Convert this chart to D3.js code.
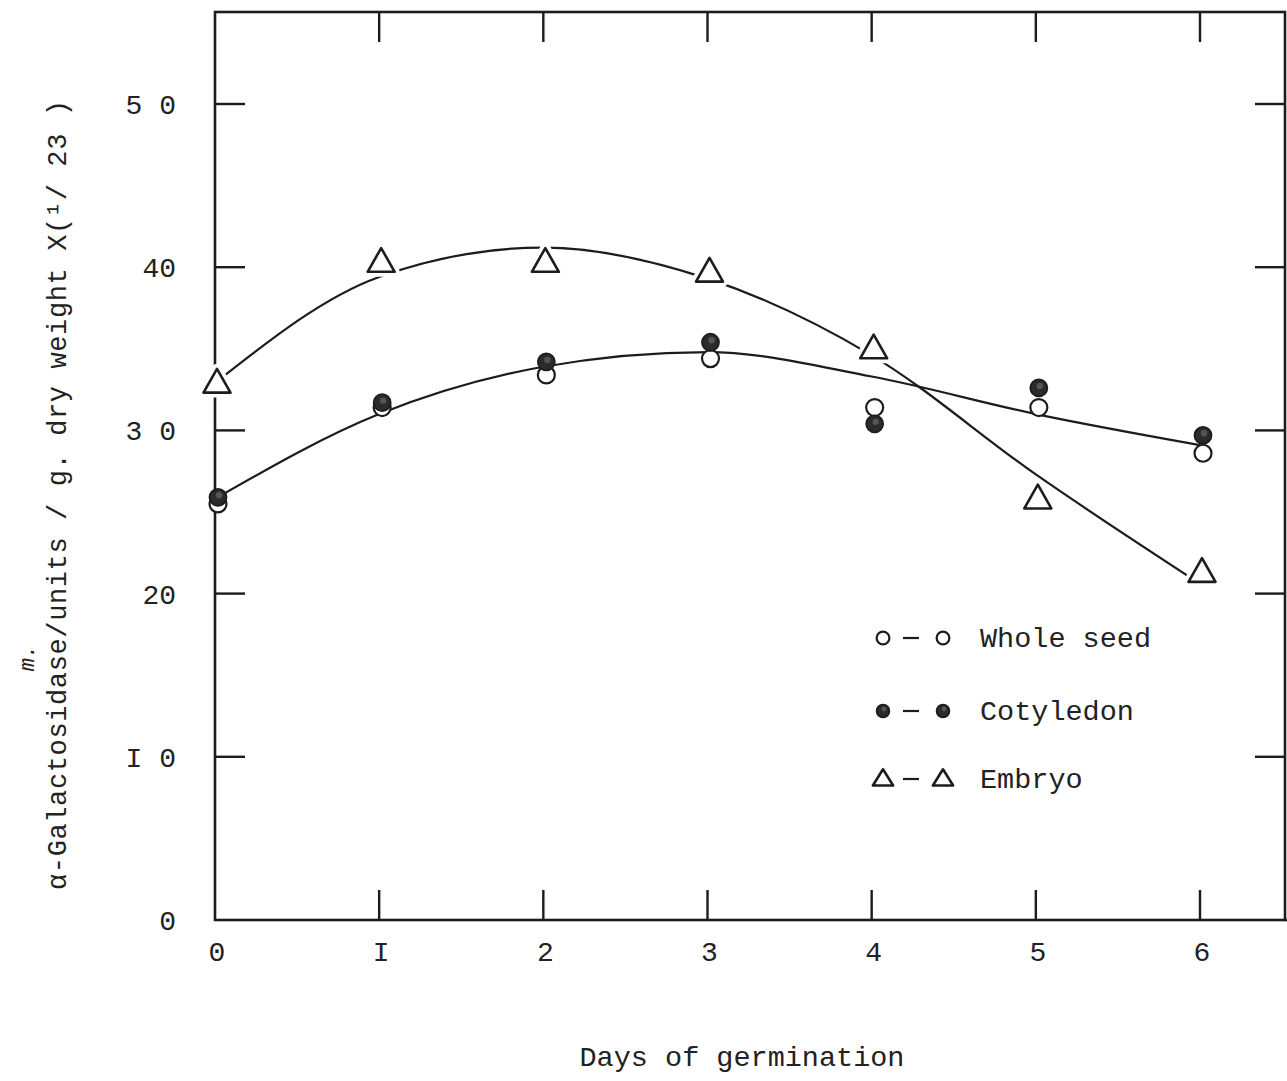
<!DOCTYPE html>
<html>
<head>
<meta charset="utf-8">
<script src="https://cdn.jsdelivr.net/npm/d3@7"></script>
<style>
  html, body { margin: 0; padding: 0; background: #fff; }
  svg { display: block; }
  text { font-family: "Liberation Mono", "DejaVu Sans Mono", monospace; fill: #222; }
</style>
</head>
<body>
<svg id="chart" width="1287" height="1081"></svg>
<script>
// Days of germination
const days = [0, 1, 2, 3, 4, 5, 6];

// Measured activity (units / g dry weight x 1/23)
const wholeSeed  = [25.5, 31.4, 33.4, 34.4, 31.4, 31.4, 28.6];
const cotyledon  = [25.9, 31.7, 34.2, 35.4, 30.4, 32.6, 29.7];
const embryo     = [32.9, 40.3, 40.3, 39.7, 35.0, 25.8, 21.3];

// Hand-drawn trend curves
const seedCurve   = [25.8, 31.0, 33.9, 34.8, 33.3, 31.0, 29.1];
const embryoCurve = [32.9, 39.4, 41.2, 39.3, 34.6, 27.3, 20.6];

// Tick labels
const xTickLabels = ["0", "I", "2", "3", "4", "5", "6"];
const yTickValues = [0, 10, 20, 30, 40, 50];
const yTickLabels = ["0", "I 0", "20", "3 0", "40", "5 0"];

// Legend entries
const legendLabels = ["Whole seed", "Cotyledon", "Embryo"];
const legendKinds  = ["open", "filled", "triangle"];

const svg = d3.select("#chart");
const ink = "#1c1c1c";

const frame = { left: 215, right: 1285, top: 12, bottom: 920 };

const x = d3.scaleLinear().domain([0, 6]).range([frame.left, 1200]);
const y = d3.scaleLinear().domain([0, 50]).range([frame.bottom, 104]);

// Plot frame
svg.append("rect")
  .attr("x", frame.left).attr("y", frame.top)
  .attr("width", frame.right - frame.left).attr("height", frame.bottom - frame.top)
  .attr("fill", "none").attr("stroke", ink).attr("stroke-width", 2.6);
// bottom axis runs a little past the frame
svg.append("line")
  .attr("x1", frame.right).attr("x2", 1287)
  .attr("y1", frame.bottom).attr("y2", frame.bottom)
  .attr("stroke", ink).attr("stroke-width", 2.6);

// Inward tick marks on all four sides
const tickLen = 30;
const tickG = svg.append("g").attr("stroke", ink).attr("stroke-width", 2.4);
days.slice(1).forEach(d => {
  tickG.append("line").attr("x1", x(d)).attr("x2", x(d))
    .attr("y1", frame.bottom).attr("y2", frame.bottom - tickLen);
  tickG.append("line").attr("x1", x(d)).attr("x2", x(d))
    .attr("y1", frame.top).attr("y2", frame.top + tickLen);
});
yTickValues.slice(1).forEach(v => {
  tickG.append("line").attr("x1", frame.left).attr("x2", frame.left + tickLen)
    .attr("y1", y(v)).attr("y2", y(v));
  tickG.append("line").attr("x1", frame.right).attr("x2", frame.right - tickLen)
    .attr("y1", y(v)).attr("y2", y(v));
});

// X tick labels
svg.append("g").selectAll("text").data(days).join("text")
  .attr("x", d => x(d) + 2)
  .attr("y", 961)
  .attr("text-anchor", "middle")
  .attr("font-size", 28)
  .text((d, i) => xTickLabels[i]);

// Y tick labels
svg.append("g").selectAll("text").data(yTickValues).join("text")
  .attr("x", 176)
  .attr("y", v => y(v) + 10)
  .attr("text-anchor", "end")
  .attr("font-size", 28)
  .text((v, i) => yTickLabels[i]);

// Axis titles
svg.append("text")
  .attr("x", 742).attr("y", 1066)
  .attr("text-anchor", "middle")
  .attr("font-size", 28.5)
  .text("Days of germination");

svg.append("text")
  .attr("transform", "translate(66,495) rotate(-90)")
  .attr("text-anchor", "middle")
  .attr("font-size", 27)
  .attr("textLength", 790)
  .attr("lengthAdjust", "spacing")
  .text("α-Galactosidase/units / g. dry weight X(¹/ 23 )");

svg.append("text")
  .attr("transform", "translate(34,658) rotate(-90)")
  .attr("text-anchor", "middle")
  .attr("font-size", 22)
  .attr("font-style", "italic")
  .text("m.");

// Trend curves
const line = d3.line()
  .x((v, i) => x(days[i]))
  .y(v => y(v))
  .curve(d3.curveMonotoneX);

svg.append("path").datum(seedCurve)
  .attr("d", line).attr("fill", "none")
  .attr("stroke", ink).attr("stroke-width", 2.2);
svg.append("path").datum(embryoCurve)
  .attr("d", line).attr("fill", "none")
  .attr("stroke", ink).attr("stroke-width", 2.2);

// Marker drawing helpers
const triPath = (s, k) => {
  const h = s * k;
  return `M0,${-h * 0.6}L${s / 2},${h * 0.4}L${-s / 2},${h * 0.4}Z`;
};

function drawMarker(g, kind, cx, cy, scale = 1) {
  const r = 8.5 * scale;
  if (kind === "open") {
    g.append("circle").attr("cx", cx).attr("cy", cy).attr("r", r)
      .attr("fill", "#fff").attr("stroke", ink).attr("stroke-width", 2.2);
  } else if (kind === "filled") {
    g.append("circle").attr("cx", cx).attr("cy", cy).attr("r", r)
      .attr("fill", "#2b2b2b").attr("stroke", ink).attr("stroke-width", 1.8);
    g.append("circle").attr("cx", cx + 1).attr("cy", cy - 2).attr("r", 3.2 * scale)
      .attr("fill", "#555");
  } else {
    const d = triPath(27 * scale, scale < 1 ? 0.8 : 0.88);
    g.append("path").attr("transform", `translate(${cx},${cy})`)
      .attr("d", d)
      .attr("fill", "#fff").attr("stroke", "#fff").attr("stroke-width", 10)
      .attr("stroke-linejoin", "round");
    g.append("path").attr("transform", `translate(${cx},${cy})`)
      .attr("d", d)
      .attr("fill", "#fff").attr("stroke", ink).attr("stroke-width", 2.6)
      .attr("stroke-linejoin", "round");
  }
}

const markG = svg.append("g");
wholeSeed.forEach((v, i) => drawMarker(markG, "open", x(days[i]) + 3, y(v)));
cotyledon.forEach((v, i) => drawMarker(markG, "filled", x(days[i]) + 3, y(v)));
embryo.forEach((v, i) => drawMarker(markG, "triangle", x(days[i]) + 2, y(v)));

// Legend
const legG = svg.append("g");
const legendRowY = [638, 711, 779];
legendLabels.forEach((lab, i) => {
  const ly = legendRowY[i];
  drawMarker(legG, legendKinds[i], 883, ly, 0.75);
  drawMarker(legG, legendKinds[i], 943, ly, 0.75);
  legG.append("line").attr("x1", 903).attr("x2", 919)
    .attr("y1", ly).attr("y2", ly)
    .attr("stroke", ink).attr("stroke-width", 2.2);
  legG.append("text")
    .attr("x", 980).attr("y", ly + 9)
    .attr("font-size", 28.5)
    .text(lab);
});
</script>
</body>
</html>
